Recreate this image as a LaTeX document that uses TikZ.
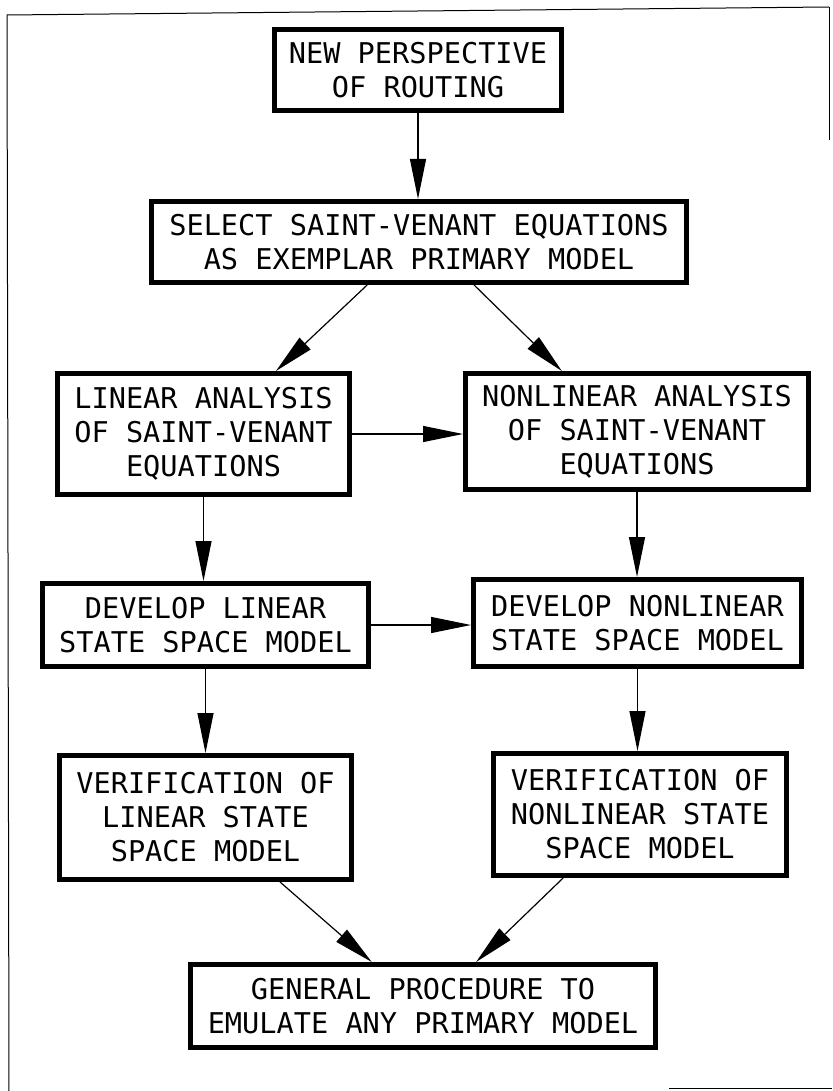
\documentclass[tikz,border=0pt]{standalone}
\usepackage{fontspec}
\newfontfamily\plotfont{DejaVu Sans Mono}
\usetikzlibrary{arrows.meta,calc}
\begin{document}
\begin{tikzpicture}[x=1pt,y=-1pt,
  box/.style={draw, line width=5pt, inner sep=0pt, align=center,
    font=\plotfont\fontsize{28.6}{34}\selectfont},
  conn/.style={line width=1.2pt, -{Triangle[length=40pt,width=16pt]}},
  framepart/.style={line width=1pt}]
\useasboundingbox (0,0) rectangle (832,1091);
% page frame
\draw[framepart] (7,15) -- (829,7);
\draw[framepart] (7,15) -- (9,1091);
\draw[framepart] (829,7) -- (829,140);
\draw[framepart] (669,1088) -- (832,1088);
% boxes
\node[box, minimum width=287pt, minimum height=81pt] (b1) at (418,70) {NEW PERSPECTIVE\\OF ROUTING};
\node[box, minimum width=535pt, minimum height=81pt] (b2) at (419,242) {SELECT SAINT-VENANT EQUATIONS\\AS EXEMPLAR PRIMARY MODEL};
\node[box, minimum width=292pt, minimum height=121pt] (b3) at (203.5,434) {LINEAR ANALYSIS\\OF SAINT-VENANT\\EQUATIONS};
\node[box, minimum width=343pt, minimum height=116pt] (b4) at (637,431.5) {NONLINEAR ANALYSIS\\OF SAINT-VENANT\\EQUATIONS};
\node[box, minimum width=326pt, minimum height=83pt] (b5) at (205.5,625) {DEVELOP LINEAR\\STATE SPACE MODEL};
\node[box, minimum width=328pt, minimum height=87pt] (b6) at (637.5,623) {DEVELOP NONLINEAR\\STATE SPACE MODEL};
\node[box, minimum width=292pt, minimum height=124pt] (b7) at (205.5,817.5) {VERIFICATION OF\\LINEAR STATE\\SPACE MODEL};
\node[box, minimum width=293pt, minimum height=122pt] (b8) at (640,814.5) {VERIFICATION OF\\NONLINEAR STATE\\SPACE MODEL};
\node[box, minimum width=465pt, minimum height=83pt] (b9) at (423,1006) {GENERAL PROCEDURE TO\\EMULATE ANY PRIMARY MODEL};
% connectors
\draw[conn] (b1.south) -- (b1.south |- b2.north);
\draw[conn] ($(b2.south west)!0.404!(b2.south east)$) -- ($(b3.north west)!0.744!(b3.north east)$);
\draw[conn] ($(b2.south west)!0.602!(b2.south east)$) -- ($(b4.north west)!0.284!(b4.north east)$);
\draw[conn] (b3.east) -- (b3.east -| b4.west);
\draw[conn] (b3.south) -- (b3.south |- b5.north);
\draw[conn] (b4.south) -- (b4.south |- b6.north);
\draw[conn] (b5.east) -- (b5.east -| b6.west);
\draw[conn] (b5.south) -- (b5.south |- b7.north);
\draw[conn] (b6.south) -- (b6.south |- b8.north);
\draw[conn] ($(b7.south west)!0.751!(b7.south east)$) -- ($(b9.north west)!0.391!(b9.north east)$);
\draw[conn] ($(b8.south west)!0.242!(b8.south east)$) -- ($(b9.north west)!0.613!(b9.north east)$);
\end{tikzpicture}
\end{document}
